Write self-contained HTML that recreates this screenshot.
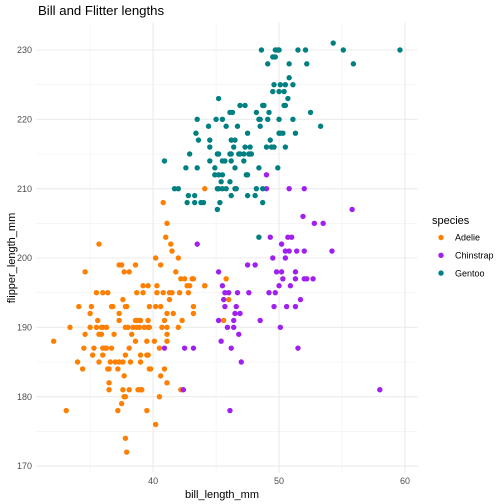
<!DOCTYPE html>
<html><head><meta charset="utf-8"><style>
body{margin:0;background:#fff;}
svg{display:block;font-family:"Liberation Sans",sans-serif;}
</style></head><body>
<svg id="chart" width="504" height="504" viewBox="0 0 504 504">
<text x="38" y="15" font-size="13.2" fill="#000">Bill and Flitter lengths</text>
<g id="grid"></g>
<g id="axes"></g>
<g id="pts"></g>
<text x="222" y="498" font-size="11" text-anchor="middle" fill="#000">bill_length_mm</text>
<text transform="translate(15,258) rotate(-90)" font-size="11" text-anchor="middle" fill="#000">flipper_length_mm</text>
<g id="legend"></g>
</svg>
<script>
const speciesNames = ["Adelie","Chinstrap","Gentoo"];
const speciesColors = ["#ff7f00","#a020f0","#008080"];
const xTicks = [40,50,60];
const yTicks = [170,180,190,200,210,220,230];
const adelieBill = [41.0,35.7,41.4,41.5,42.0,40.2,37.3,37.5,38.6,40.6,34.6,37.7,38.1,41.8,42.2,42.5,43.1,43.2,39.2,39.6,40.3,42.7,42.9,44.1,35.5,36.0,36.4,38.7,39.2,40.3,40.8,41.3,41.5,42.1,42.8,41.3,37.6,34.1,35.1,36.7,36.8,37.8,37.9,39.7,40.2,40.6,43.2,35.0,37.3,41.1,41.6,43.2,35.6,37.3,38.6,38.7,38.9,39.0,39.6,40.9,42.3,33.4,35.0,35.5,35.9,36.0,36.3,37.8,38.0,38.4,38.7,38.9,39.3,39.6,39.7,40.7,41.1,42.0,34.6,35.7,35.9,36.9,38.3,41.1,32.1,38.6,39.5,40.1,41.1,34.5,35.3,36.0,36.2,36.3,36.7,38.1,40.5,35.2,36.0,37.8,39.0,39.5,39.6,34.0,35.7,36.6,37.0,37.3,37.6,38.2,39.0,34.4,36.4,36.5,37.2,39.7,39.8,40.9,37.7,40.6,36.5,41.1,36.5,37.6,38.1,38.8,39.0,39.1,42.2,37.7,37.8,40.5,37.5,33.1,37.2,39.5,40.2,37.8,37.9,44.1,45.8,46.0,45.6,44.1,40.8,41.1];
const adelieFlipper = [203,202,202,201,200,200,199,199,199,199,198,198,198,198,197,197,197,197,196,196,196,196,196,196,195,195,195,195,195,195,195,195,195,195,195,194,194,193,193,193,193,193,193,193,193,193,193,192,192,192,192,192,191,191,191,191,191,191,191,191,191,190,190,190,190,190,190,190,190,190,190,190,190,190,190,190,190,190,189,189,189,189,189,189,188,188,188,188,188,187,187,187,187,187,187,187,187,186,186,186,186,186,186,185,185,185,185,185,185,185,185,184,184,184,184,184,184,184,183,183,182,182,181,181,181,181,181,181,181,180,180,180,179,178,178,178,176,174,172,196,197,194,191,210,208,205];
const chinstrapBill = [49.0,49.0,50.8,52.0,51.9,55.8,52.8,53.5,49.3,50.7,51.0,43.5,50.2,50.5,50.8,51.4,52.0,54.2,49.5,50.5,47.5,48.1,45.2,49.8,50.2,51.3,50.3,51.3,52.0,52.2,52.7,45.5,50.0,50.9,45.7,46.0,46.7,47.6,49.2,49.7,45.6,51.7,45.7,46.6,49.6,50.6,51.3,46.5,46.9,45.2,46.4,48.5,45.9,46.4,50.1,46.8,45.4,40.9,42.5,43.2,46.2,51.5,47.0,42.4,58.0,46.1];
const chinstrapFlipper = [212,210,210,210,206,207,205,205,203,203,203,202,202,201,201,201,201,201,200,200,199,199,198,198,198,198,197,197,197,197,197,196,196,196,195,195,195,195,195,195,194,194,193,193,193,193,193,192,192,191,191,191,190,190,190,189,188,187,187,187,187,187,185,181,181,178];
const gentooBill = [54.3,48.6,49.7,49.9,50.0,51.5,52.1,55.1,59.6,49.5,49.7,49.1,50.8,52.2,55.9,50.8,49.6,50.1,50.5,51.1,49.5,50.0,50.4,45.2,50.7,46.9,47.3,48.7,48.8,50.4,50.5,46.1,46.3,48.2,49.2,52.5,43.5,45.0,45.5,48.4,48.5,49.1,50.0,51.1,44.4,45.8,46.7,48.5,53.3,43.4,47.5,50.0,50.1,50.3,51.3,43.6,44.5,46.2,46.5,49.3,44.5,46.4,47.3,47.7,49.0,49.4,49.6,50.5,42.9,45.1,45.2,46.1,46.2,46.8,46.9,47.2,47.6,47.7,47.8,40.9,44.5,45.5,45.7,46.2,47.2,42.6,43.5,44.9,46.5,48.4,49.9,44.9,45.2,45.5,47.4,47.5,45.4,46.1,41.7,42.0,45.1,45.2,45.5,45.8,46.5,46.6,48.2,48.7,42.8,43.3,46.2,47.5,48.1,42.7,43.3,43.8,44.0,45.3,48.7,45.1,48.4];
const gentooFlipper = [231,230,230,230,230,230,230,230,230,229,229,228,228,228,228,226,225,225,225,225,224,224,224,223,223,222,222,222,222,222,222,221,221,221,221,221,220,220,220,220,220,220,220,220,219,219,219,219,219,218,218,218,218,218,218,217,217,217,217,217,216,216,216,216,216,216,216,216,215,215,215,215,215,215,215,215,215,215,215,214,214,214,214,214,214,213,213,213,213,213,213,212,212,212,212,212,211,211,210,210,210,210,210,210,210,210,210,210,209,209,209,209,209,208,208,208,208,208,208,207,203];

const NS="http://www.w3.org/2000/svg";
const X0=36,X1=417.6,xMin=30.7,xMax=61.0;
const Y0=472.6,Y1=22.6,yMin=169.05,yMax=233.95;
const xs=v=>X0+(v-xMin)/(xMax-xMin)*(X1-X0);
const ys=v=>Y0-(v-yMin)/(yMax-yMin)*(Y0-Y1);
function mk(tag,attrs,parent){const e=document.createElementNS(NS,tag);for(const k in attrs)e.setAttribute(k,attrs[k]);parent.appendChild(e);return e;}
const grid=document.getElementById('grid'),axes=document.getElementById('axes');
for(let i=0;i<xTicks.length+1;i++){const v=xTicks[0]-5+i*10;if(v>xMin&&v<xMax){const l=mk('line',{x1:xs(v),x2:xs(v),y1:Y1,y2:Y0,stroke:'#f0f0f0','stroke-width':0.6},grid);

}}
for(let i=0;i<yTicks.length;i++){const v=yTicks[i]+5;if(v>yMin&&v<yMax){const l=mk('line',{x1:X0,x2:X1,y1:ys(v),y2:ys(v),stroke:'#f0f0f0','stroke-width':0.6},grid);

}}
xTicks.forEach(v=>{const l=mk('line',{x1:xs(v),x2:xs(v),y1:Y1,y2:Y0,stroke:'#ebebeb','stroke-width':1.1},grid);


const t=mk('text',{x:xs(v),y:484,'font-size':9,'text-anchor':'middle',fill:'#4d4d4d'},axes);t.textContent=v;

});
yTicks.forEach(v=>{const l=mk('line',{x1:X0,x2:X1,y1:ys(v),y2:ys(v),stroke:'#ebebeb','stroke-width':1.1},grid);


const t=mk('text',{x:32,y:ys(v)+3.2,'font-size':9,'text-anchor':'end',fill:'#4d4d4d'},axes);t.textContent=v;

});
const pts=document.getElementById('pts');
const series=[[adelieBill,adelieFlipper],[chinstrapBill,chinstrapFlipper],[gentooBill,gentooFlipper]];
series.forEach((s,si)=>{for(let i=0;i<s[0].length;i++){const c=mk('circle',{cx:xs(s[0][i]),cy:ys(s[1][i]),r:2.7,fill:speciesColors[si]},pts);

}});
const lg=document.getElementById('legend');
const lt=mk('text',{x:432,y:224,'font-size':11,fill:'#000'},lg);lt.textContent='species';


speciesNames.forEach((n,i)=>{const y=237.5+i*17.8;
const c=mk('circle',{cx:441,cy:y,r:2.7,fill:speciesColors[i]},lg);


const t=mk('text',{x:455,y:y+3.2,'font-size':9,fill:'#000'},lg);t.textContent=n;

});
</script>
</body></html>
